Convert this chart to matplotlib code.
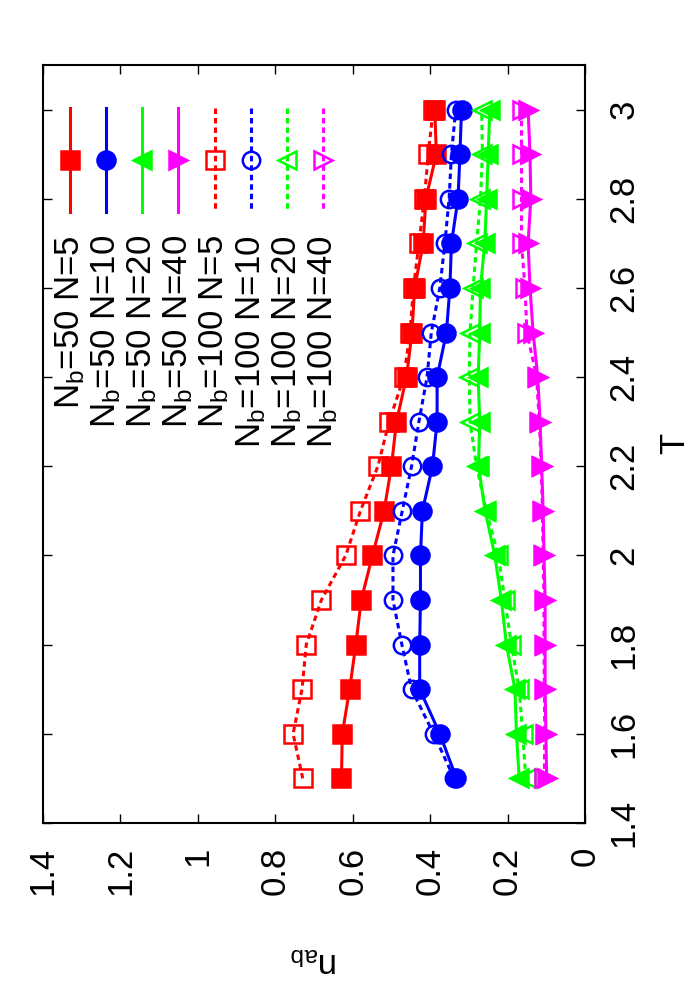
import numpy as np
import matplotlib
matplotlib.use('Agg')
import matplotlib.pyplot as plt

plt.rcParams['font.family'] = ['Liberation Sans', 'DejaVu Sans']
plt.rcParams['mathtext.fontset'] = 'custom'
plt.rcParams['mathtext.rm'] = 'Liberation Sans'
plt.rcParams['mathtext.it'] = 'Liberation Sans:italic'

# temperature values (shared by all series)
T = [1.5, 1.6, 1.7, 1.8, 1.9, 2.0, 2.1, 2.2, 2.3, 2.4, 2.5, 2.6, 2.7, 2.8, 2.9, 3.0]

nb50_n5 = [0.629, 0.627, 0.608, 0.592, 0.578, 0.549, 0.519, 0.500,
           0.487, 0.461, 0.447, 0.440, 0.418, 0.411, 0.384, 0.388]
nb50_n10 = [0.332, 0.375, 0.427, 0.427, 0.425, 0.425, 0.420, 0.394,
            0.382, 0.382, 0.358, 0.349, 0.345, 0.328, 0.323, 0.319]
nb50_n20 = [0.170, 0.177, 0.181, 0.203, 0.216, 0.233, 0.258, 0.275,
            0.272, 0.276, 0.272, 0.270, 0.259, 0.254, 0.250, 0.246]
nb50_n40 = [0.099, 0.101, 0.103, 0.103, 0.103, 0.106, 0.108, 0.112,
            0.116, 0.122, 0.134, 0.142, 0.147, 0.140, 0.142, 0.147]
nb100_n5 = [0.729, 0.754, 0.731, 0.720, 0.681, 0.618, 0.580, 0.535,
            0.506, 0.468, 0.452, 0.443, 0.429, 0.415, 0.405, 0.392]
nb100_n10 = [0.338, 0.391, 0.448, 0.473, 0.496, 0.496, 0.472, 0.448,
             0.429, 0.408, 0.397, 0.375, 0.362, 0.351, 0.345, 0.334]
nb100_n20 = [0.153, 0.161, 0.170, 0.190, 0.207, 0.224, 0.255, 0.280,
             0.297, 0.299, 0.297, 0.289, 0.280, 0.270, 0.265, 0.267]
nb100_n40 = [0.105, 0.104, 0.105, 0.106, 0.106, 0.108, 0.110, 0.113,
             0.118, 0.125, 0.150, 0.155, 0.164, 0.164, 0.164, 0.164]

labels = [r'N$_\mathrm{b}$=50 N=5', r'N$_\mathrm{b}$=50 N=10',
          r'N$_\mathrm{b}$=50 N=20', r'N$_\mathrm{b}$=50 N=40',
          r'N$_\mathrm{b}$=100 N=5', r'N$_\mathrm{b}$=100 N=10',
          r'N$_\mathrm{b}$=100 N=20', r'N$_\mathrm{b}$=100 N=40']
series = [nb50_n5, nb50_n10, nb50_n20, nb50_n40,
          nb100_n5, nb100_n10, nb100_n20, nb100_n40]

n_ticks = [0, 0.2, 0.4, 0.6, 0.8, 1.0, 1.2, 1.4]
n_ticklabels = ['0', '0.2', '0.4', '0.6', '0.8', '1', '1.2', '1.4']
t_ticks = [1.4, 1.6, 1.8, 2.0, 2.2, 2.4, 2.6, 2.8, 3.0]
t_ticklabels = ['1.4', '1.6', '1.8', '2', '2.2', '2.4', '2.6', '2.8', '3']

colors = ['#ff0000', '#0000ff', '#00ff00', '#ff00ff'] * 2
markers = ['s', 'o', '<', '>'] * 2
msizes = [13, 13, 13, 13, 13, 12.5, 13, 13]
filled = [True] * 4 + [False] * 4
dash = (0, (1.8, 1.3))

fig = plt.figure(figsize=(7, 10), dpi=100)
ax = fig.add_axes([43 / 700, 1 - 823 / 1000, 542 / 700, 758 / 1000])

# the whole plot is rotated: n_ab runs along x (reversed), T along y
for i, (vals, lab) in enumerate(zip(series, labels)):
    ls = '-' if filled[i] else dash
    mfc = colors[i] if filled[i] else 'none'
    ax.plot(vals, T, color=colors[i], linestyle=ls, lw=2.2,
            marker=markers[i], ms=msizes[i], mfc=mfc, mec=colors[i],
            mew=1.8, clip_on=False)

    # hand-made key, drawn vertically like the rotated gnuplot key
    kx = (70 + 36.15 * i - 43) / 542
    ax.plot([kx, kx], [1 - 43 / 758, 1 - 147 / 758], transform=ax.transAxes,
            color=colors[i], linestyle=ls, lw=2.2, clip_on=False)
    ax.plot([kx], [1 - 95 / 758], transform=ax.transAxes, color=colors[i],
            marker=markers[i], ms=msizes[i], mfc=mfc, mec=colors[i], mew=1.8,
            linestyle='none', clip_on=False)
    ax.text(kx, 1 - 170 / 758, lab, transform=ax.transAxes, rotation=90,
            ha='center', va='top', fontsize=25)

ax.set_xlim(1.4, 0)
ax.set_ylim(1.4, 3.1)
ax.set_xticks(n_ticks)
ax.set_xticklabels(n_ticklabels)
ax.set_yticks(t_ticks)
ax.set_yticklabels(t_ticklabels)

ax.tick_params(direction='in', length=6.5, width=1.0, top=True, right=True,
               labelleft=False, labelright=True, labelsize=25)
ax.tick_params(axis='x', pad=17)
ax.tick_params(axis='y', pad=16)
for lb in ax.get_xticklabels():
    lb.set_rotation(90)
    lb.set_va('top')
    lb.set_ha('center')
for lb in ax.get_yticklabels():
    lb.set_rotation(90)
    lb.set_va('center')
    lb.set_ha('left')
for sp in ax.spines.values():
    sp.set_linewidth(1.5)

fig.text(675 / 700, 1 - 443 / 1000, 'T', rotation=90, ha='center',
         va='center', fontsize=25)
fig.text(314 / 700, 1 - 962 / 1000, r'n$_\mathrm{ab}$', rotation=180,
         ha='center', va='center', fontsize=25)

fig.savefig('out.png', dpi=100)
